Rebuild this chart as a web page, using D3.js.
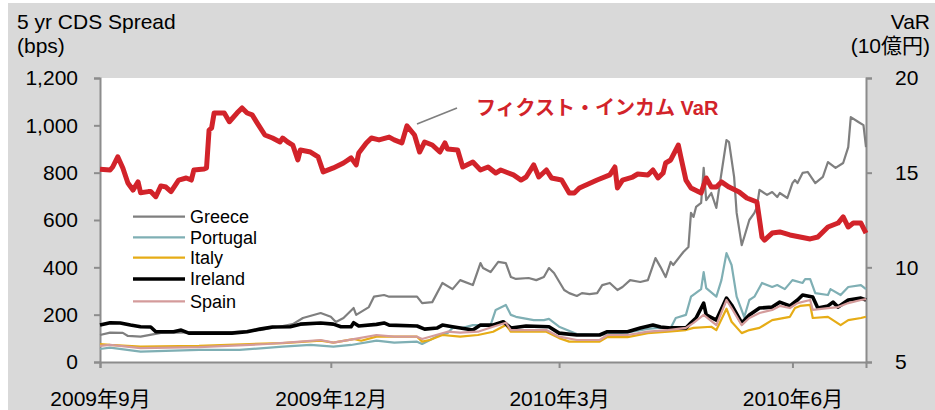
<!DOCTYPE html>
<html><head><meta charset="utf-8">
<script src="https://cdn.jsdelivr.net/npm/d3@7"></script>
<style>
html,body{margin:0;padding:0;background:#fff;}
text{font-family:"Liberation Sans",Arial,"Noto Sans CJK JP",sans-serif;}
</style></head>
<body>
<svg id="chart" width="935" height="410"></svg>
<script>
// ---------- data ----------
const leftTicks = [0, 200, 400, 600, 800, 1000, 1200];
const rightTicks = [5, 10, 15, 20];
const xTickDates = ["2009-09-01", "2009-12-01", "2010-03-01", "2010-06-01"];
const xTickLabels = ["2009年9月", "2009年12月", "2010年3月", "2010年6月"];
const legendNames = ["Greece", "Portugal", "Italy", "Ireland", "Spain"];

const greece = [
 ["2009-09-01",114],["2009-09-05",124],["2009-09-10",123],["2009-09-12",110],["2009-09-17",107],
 ["2009-09-25",123],["2009-10-06",125],["2009-10-22",125],["2009-11-03",135],["2009-11-11",150],
 ["2009-11-16",160],["2009-11-20",186],["2009-11-27",207],["2009-12-01",191],["2009-12-03",169],
 ["2009-12-06",186],["2009-12-10",228],["2009-12-11",199],["2009-12-16",232],["2009-12-18",276],
 ["2009-12-22",283],["2009-12-24",276],["2010-01-04",276],["2010-01-06",249],["2010-01-10",253],
 ["2010-01-14",334],["2010-01-18",308],["2010-01-21",346],["2010-01-26",325],["2010-01-29",418],
 ["2010-01-30",397],["2010-02-02",380],["2010-02-05",423],["2010-02-08",418],["2010-02-10",359],
 ["2010-02-12",351],["2010-02-17",355],["2010-02-20",346],["2010-02-23",359],["2010-02-25",397],
 ["2010-02-27",376],["2010-03-03",304],["2010-03-05",291],["2010-03-08",279],["2010-03-10",291],
 ["2010-03-13",287],["2010-03-16",291],["2010-03-18",325],["2010-03-21",334],["2010-03-24",304],
 ["2010-03-26",317],["2010-03-29",346],["2010-04-02",338],["2010-04-05",346],["2010-04-08",439],
 ["2010-04-10",401],["2010-04-12",359],["2010-04-14",423],["2010-04-15",410],["2010-04-19",465],
 ["2010-04-21",486],["2010-04-22",630],["2010-04-23",613],["2010-04-24",655],["2010-04-26",672],
 ["2010-04-27",820],["2010-04-28",684],["2010-04-30",714],["2010-05-02",651],["2010-05-03",727],
 ["2010-05-06",938],["2010-05-07",929],["2010-05-09",782],["2010-05-10",630],["2010-05-12",494],
 ["2010-05-13",528],["2010-05-15",600],["2010-05-17",630],["2010-05-18",655],["2010-05-19",727],
 ["2010-05-22",706],["2010-05-24",718],["2010-05-26",697],["2010-05-27",714],["2010-05-30",693],
 ["2010-06-01",756],["2010-06-02",769],["2010-06-03",756],["2010-06-05",799],["2010-06-07",803],
 ["2010-06-10",756],["2010-06-13",782],["2010-06-15",845],["2010-06-18",820],["2010-06-21",841],
 ["2010-06-23",908],["2010-06-24",1035],["2010-06-27",1014],["2010-06-29",1001],["2010-06-30",908]
];

const portugal = [
 ["2009-09-01",55],["2009-09-05",61],["2009-09-17",44],["2009-10-10",51],["2009-10-26",51],
 ["2009-11-12",65],["2009-11-23",72],["2009-12-02",65],["2009-12-09",72],["2009-12-19",90],
 ["2009-12-26",82],["2010-01-04",86],["2010-01-06",76],["2010-01-13",114],["2010-01-16",122],
 ["2010-01-18",144],["2010-01-22",144],["2010-01-26",156],["2010-02-02",156],["2010-02-04",220],
 ["2010-02-08",241],["2010-02-10",199],["2010-02-12",191],["2010-02-19",177],["2010-02-23",177],
 ["2010-02-25",182],["2010-03-01",149],["2010-03-08",118],["2010-03-17",115],["2010-03-28",125],
 ["2010-04-05",140],["2010-04-10",145],["2010-04-14",144],["2010-04-16",186],["2010-04-20",199],
 ["2010-04-22",276],["2010-04-26",308],["2010-04-27",380],["2010-04-28",312],["2010-05-02",276],
 ["2010-05-04",346],["2010-05-06",460],["2010-05-08",410],["2010-05-10",276],["2010-05-13",190],
 ["2010-05-15",262],["2010-05-17",276],["2010-05-20",334],["2010-05-24",317],["2010-05-26",325],
 ["2010-05-29",308],["2010-06-01",346],["2010-06-05",334],["2010-06-06",350],["2010-06-08",350],
 ["2010-06-10",291],["2010-06-15",283],["2010-06-16",308],["2010-06-20",283],["2010-06-23",317],
 ["2010-06-28",325],["2010-06-30",308]
];

const italy = [
 ["2009-09-01",76],["2009-09-05",72],["2009-09-17",65],["2009-10-10",68],["2009-10-30",76],
 ["2009-11-12",80],["2009-11-27",90],["2009-12-02",82],["2009-12-10",97],["2009-12-13",90],
 ["2009-12-19",107],["2010-01-04",107],["2010-01-06",86],["2010-01-09",93],["2010-01-14",114],
 ["2010-01-21",107],["2010-01-28",114],["2010-02-03",128],["2010-02-08",156],["2010-02-10",128],
 ["2010-02-24",128],["2010-03-01",101],["2010-03-05",86],["2010-03-17",86],["2010-03-20",105],
 ["2010-03-28",105],["2010-04-05",122],["2010-04-13",128],["2010-04-20",135],["2010-04-23",144],
 ["2010-04-30",149],["2010-05-02",135],["2010-05-06",225],["2010-05-08",170],["2010-05-12",122],
 ["2010-05-15",135],["2010-05-19",144],["2010-05-24",177],["2010-05-31",191],["2010-06-02",228],
 ["2010-06-04",237],["2010-06-08",241],["2010-06-09",186],["2010-06-15",191],["2010-06-20",156],
 ["2010-06-23",177],["2010-06-28",186],["2010-06-30",191]
];

const ireland = [
 ["2009-09-01",156],["2009-09-05",166],["2009-09-09",165],["2009-09-13",156],["2009-09-17",149],
 ["2009-09-21",148],["2009-09-23",128],["2009-09-30",128],["2009-10-03",135],["2009-10-06",122],
 ["2009-10-23",122],["2009-10-29",128],["2009-11-03",139],["2009-11-08",148],["2009-11-15",149],
 ["2009-11-19",160],["2009-11-27",165],["2009-12-02",160],["2009-12-05",149],["2009-12-09",149],
 ["2009-12-10",166],["2009-12-12",152],["2009-12-19",159],["2009-12-22",165],["2009-12-24",156],
 ["2010-01-04",152],["2010-01-07",139],["2010-01-12",144],["2010-01-14",156],["2010-01-18",149],
 ["2010-01-26",135],["2010-01-29",156],["2010-02-03",156],["2010-02-07",170],["2010-02-10",144],
 ["2010-02-16",152],["2010-02-25",149],["2010-03-01",122],["2010-03-08",114],["2010-03-17",114],
 ["2010-03-20",128],["2010-03-28",128],["2010-04-02",144],["2010-04-07",156],["2010-04-10",148],
 ["2010-04-14",144],["2010-04-20",144],["2010-04-22",166],["2010-04-24",186],["2010-04-27",249],
 ["2010-04-28",199],["2010-05-02",177],["2010-05-06",270],["2010-05-08",241],["2010-05-12",165],
 ["2010-05-15",199],["2010-05-19",228],["2010-05-24",232],["2010-05-27",253],["2010-05-31",237],
 ["2010-06-03",262],["2010-06-05",283],["2010-06-09",275],["2010-06-11",228],["2010-06-15",237],
 ["2010-06-17",253],["2010-06-19",232],["2010-06-23",262],["2010-06-28",270],["2010-06-30",262]
];

const spain = [
 ["2009-09-01",68],["2009-09-05",72],["2009-09-17",59],["2009-10-10",63],["2009-11-06",76],
 ["2009-11-19",86],["2009-11-27",93],["2009-12-02",82],["2009-12-10",97],["2009-12-19",114],
 ["2009-12-26",107],["2010-01-04",107],["2010-01-06",97],["2010-01-16",128],["2010-01-21",124],
 ["2010-01-28",128],["2010-02-03",149],["2010-02-08",166],["2010-02-10",135],["2010-02-24",135],
 ["2010-03-01",107],["2010-03-08",93],["2010-03-17",93],["2010-03-20",114],["2010-03-28",114],
 ["2010-04-05",128],["2010-04-13",135],["2010-04-20",144],["2010-04-23",165],["2010-04-27",199],
 ["2010-05-02",156],["2010-05-06",262],["2010-05-08",228],["2010-05-12",156],["2010-05-15",186],
 ["2010-05-19",207],["2010-05-24",220],["2010-05-27",237],["2010-05-31",228],["2010-06-03",249],
 ["2010-06-08",262],["2010-06-09",220],["2010-06-15",228],["2010-06-19",232],["2010-06-23",249],
 ["2010-06-28",262],["2010-06-30",266]
];

const fixedIncomeVaR = [
 ["2009-09-01",15.18],["2009-09-05",15.14],["2009-09-06",15.30],["2009-09-08",15.84],["2009-09-10",15.25],
 ["2009-09-12",14.45],["2009-09-14",14.08],["2009-09-16",14.51],["2009-09-17",13.94],["2009-09-20",14.00],
 ["2009-09-21",14.00],["2009-09-23",13.73],["2009-09-25",14.30],["2009-09-27",14.24],["2009-09-29",14.00],
 ["2009-10-02",14.61],["2009-10-05",14.72],["2009-10-07",14.61],["2009-10-08",15.14],["2009-10-12",15.19],
 ["2009-10-13",15.25],["2009-10-14",17.25],["2009-10-15",17.36],["2009-10-16",18.15],["2009-10-20",18.15],
 ["2009-10-22",17.69],["2009-10-25",18.15],["2009-10-27",18.42],["2009-10-29",18.15],["2009-10-31",18.05],
 ["2009-11-02",17.62],["2009-11-05",16.99],["2009-11-08",16.83],["2009-11-11",16.62],["2009-11-12",16.83],
 ["2009-11-14",16.62],["2009-11-16",16.46],["2009-11-18",15.67],["2009-11-19",16.20],["2009-11-23",16.09],
 ["2009-11-26",15.83],["2009-11-28",15.04],["2009-12-02",15.25],["2009-12-06",15.51],["2009-12-09",15.78],
 ["2009-12-11",15.41],["2009-12-12",16.04],["2009-12-15",16.57],["2009-12-17",16.83],["2009-12-20",16.73],
 ["2009-12-24",16.88],["2009-12-26",16.73],["2009-12-29",16.57],["2009-12-31",17.47],["2010-01-03",16.99],
 ["2010-01-05",16.09],["2010-01-07",16.62],["2010-01-10",16.46],["2010-01-13",16.09],["2010-01-15",16.57],
 ["2010-01-16",16.25],["2010-01-20",16.20],["2010-01-22",15.30],["2010-01-26",15.56],["2010-01-29",15.14],
 ["2010-02-01",15.30],["2010-02-04",14.98],["2010-02-06",15.14],["2010-02-11",14.88],["2010-02-14",14.61],
 ["2010-02-16",14.77],["2010-02-19",15.41],["2010-02-21",14.77],["2010-02-24",15.14],["2010-02-26",14.72],
 ["2010-03-02",14.61],["2010-03-05",13.93],["2010-03-07",13.93],["2010-03-09",14.19],["2010-03-16",14.61],
 ["2010-03-21",14.88],["2010-03-23",15.30],["2010-03-24",14.19],["2010-03-26",14.61],["2010-03-30",14.77],
 ["2010-04-01",14.93],["2010-04-05",14.88],["2010-04-07",15.14],["2010-04-09",14.72],["2010-04-11",14.98],
 ["2010-04-12",15.51],["2010-04-14",15.67],["2010-04-17",16.46],["2010-04-18",15.83],["2010-04-20",14.61],
 ["2010-04-22",14.19],["2010-04-26",13.93],["2010-04-28",14.72],["2010-04-30",14.24],["2010-05-02",14.24],
 ["2010-05-04",14.51],["2010-05-07",14.24],["2010-05-11",13.98],["2010-05-14",13.66],["2010-05-18",13.45],
 ["2010-05-20",11.60],["2010-05-21",11.44],["2010-05-24",11.81],["2010-05-27",11.87],["2010-05-31",11.71],
 ["2010-06-04",11.60],["2010-06-08",11.50],["2010-06-11",11.60],["2010-06-15",12.13],["2010-06-19",12.34],
 ["2010-06-21",12.66],["2010-06-23",12.13],["2010-06-25",12.34],["2010-06-28",12.34],["2010-06-30",11.81]
];

const annotationText = "フィクスト・インカム VaR";

// ---------- drawing ----------
const svg = d3.select("#chart");
const parse = d3.timeParse("%Y-%m-%d");
const M = {left:100, right:866, top:78, bottom:362};

svg.append("rect").attr("x",8).attr("y",3).attr("width",935-8).attr("height",410-3).attr("fill","#d9d9d9");
svg.append("rect").attr("x",M.left).attr("y",M.top).attr("width",M.right-M.left).attr("height",M.bottom-M.top).attr("fill","#fff");

const x = d3.scaleTime().domain([parse("2009-09-01"), parse("2010-06-30")]).range([M.left, M.right]);
const yL = d3.scaleLinear().domain([0,1200]).range([M.bottom, M.top]);
const yR = d3.scaleLinear().domain([5,20]).range([M.bottom, M.top]);

const axisColor = "#8c8c8c";
const fontSize = 21;
const titleFont = '"Liberation Sans",Arial,"Noto Sans CJK JP",sans-serif';

// left axis
const gL = svg.append("g").attr("transform",`translate(${M.left},0)`)
  .call(d3.axisLeft(yL).tickValues(leftTicks).tickSize(6).tickPadding(16).tickFormat(d3.format(",")));
// right axis
const gR = svg.append("g").attr("transform",`translate(${M.right},0)`)
  .call(d3.axisRight(yR).tickValues(rightTicks).tickSize(6).tickPadding(23));
// bottom axis
const gB = svg.append("g").attr("transform",`translate(0,${M.bottom})`)
  .call(d3.axisBottom(x).tickValues(xTickDates.map(parse)).tickSize(6).tickPadding(23)
    .tickFormat((d,i)=>xTickLabels[i]));

[gL,gR,gB].forEach(g=>{
  g.select(".domain").attr("stroke",axisColor).attr("stroke-width",2);
  g.selectAll(".tick line").attr("stroke",axisColor).attr("stroke-width",2);
  g.selectAll("text").attr("fill","#000").style("font-size",fontSize+"px").style("font-family",titleFont);
});
gB.selectAll("text").attr("dy","0.71em");

// axis titles
svg.append("text").attr("x",17).attr("y",29).text("5 yr CDS Spread").style("font-size","21px").style("font-family",titleFont);
svg.append("text").attr("x",17).attr("y",53).text("(bps)").style("font-size","21px").style("font-family",titleFont);
svg.append("text").attr("x",930).attr("y",29).attr("text-anchor","end").text("VaR").style("font-size","21px").style("font-family",titleFont);
svg.append("text").attr("x",930).attr("y",53).attr("text-anchor","end").text("(10億円)").style("font-size","21px").style("font-family",titleFont);

// series
const lineL = d3.line().x(d=>x(parse(d[0]))).y(d=>yL(d[1]));
const lineR = d3.line().x(d=>x(parse(d[0]))).y(d=>yR(d[1]));

const series = [
  {name:"Greece",  data:greece,   color:"#7f7f7f", w:2.2},
  {name:"Portugal",data:portugal, color:"#7fafb4", w:2.2},
  {name:"Italy",   data:italy,    color:"#e6ac16", w:2.2},
  {name:"Ireland", data:ireland,  color:"#000000", w:3.6},
  {name:"Spain",   data:spain,    color:"#d49b9b", w:2.2}
];

const plot = svg.append("g");
series.forEach(s=>{
  plot.append("path").datum(s.data).attr("d",lineL).attr("fill","none")
    .attr("stroke",s.color).attr("stroke-width",s.w).attr("stroke-linejoin","round");
});
plot.append("path").datum(fixedIncomeVaR).attr("d",lineR).attr("fill","none")
  .attr("stroke","#d2232a").attr("stroke-width",5).attr("stroke-linejoin","round");

// legend
const leg = svg.append("g");
const legendY = [216.7, 237.3, 257.7, 279, 301.3];
series.forEach((s,i)=>{
  leg.append("line").attr("x1",133).attr("x2",185).attr("y1",legendY[i]).attr("y2",legendY[i])
    .attr("stroke",s.color).attr("stroke-width",s.w);
  leg.append("text").attr("x",190).attr("y",legendY[i]).attr("dy","0.35em").text(legendNames[i])
    .style("font-size","18px").style("font-family",titleFont);
});

// annotation
svg.append("line").attr("x1",417).attr("y1",124).attr("x2",457).attr("y2",108)
  .attr("stroke","#7f7f7f").attr("stroke-width",1.8);
svg.append("text").attr("x",476).attr("y",108).attr("dy","0.36em").text(annotationText)
  .attr("fill","#d2232a").style("font-size","20px").style("font-weight","bold")
  .style("font-family",titleFont);
</script>
</body></html>
